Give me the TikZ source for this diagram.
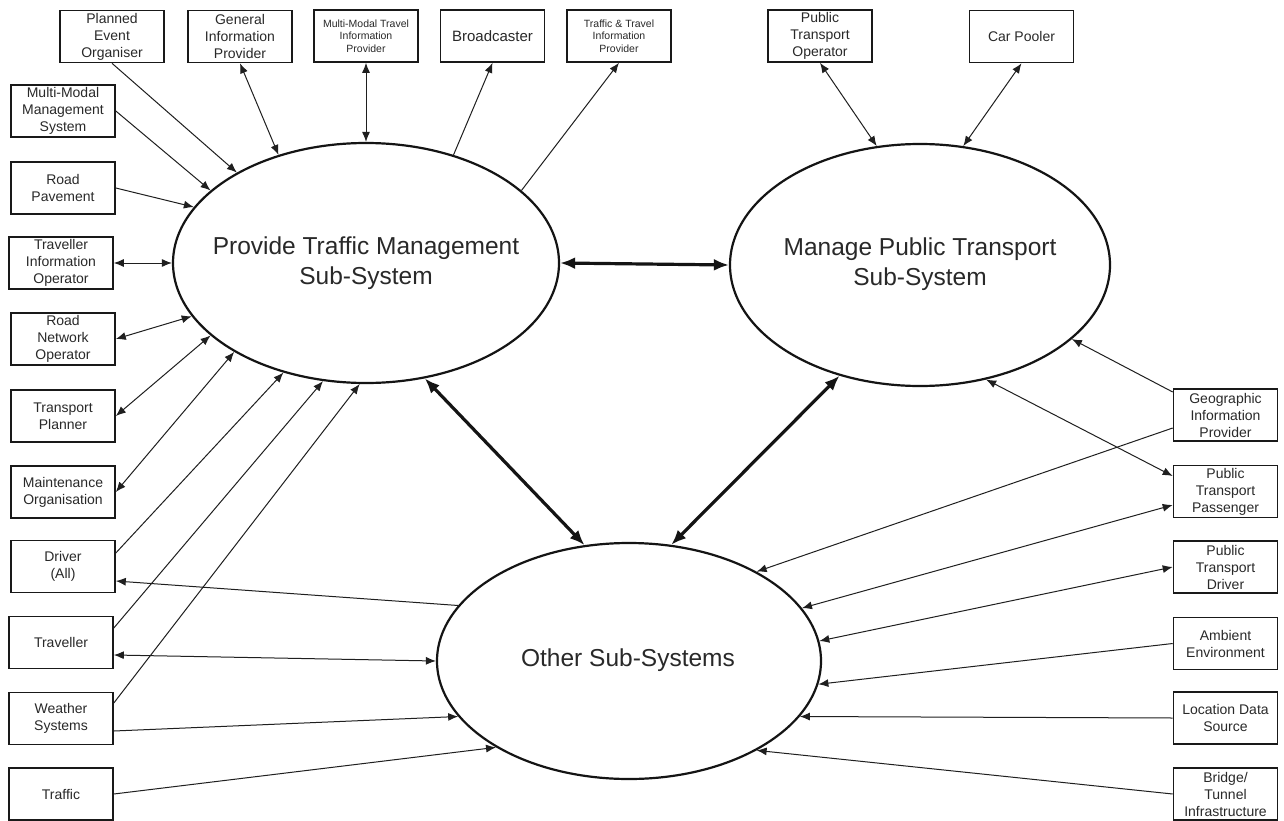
\documentclass[tikz,border=0pt]{standalone}
\usepackage{fontspec}
\setmainfont{Liberation Sans}
\usetikzlibrary{shapes.geometric,arrows.meta}
\begin{document}
\begin{tikzpicture}[x=1pt,y=-1pt,
  >={Latex[length=10pt,width=8pt]},
  actor/.style={draw=black!90, line width=1.6pt, minimum width=104pt,
    minimum height=52pt, inner sep=0pt, align=center, text=black!84,
    font=\fontsize{14}{17}\selectfont},
  smallactor/.style={actor, font=\fontsize{10.5}{12.5}\selectfont},
  subsys/.style={draw=black!92, ellipse, line width=2.2pt, inner sep=0pt},
  subtitle/.style={align=center, text=black!84, inner sep=0pt,
    font=\fontsize{24.5}{30}\selectfont},
  conn/.style={line width=1pt, draw=black!88},
  heavy/.style={line width=3.2pt, draw=black!92,
    {Latex[length=15pt,width=12pt]}-{Latex[length=15pt,width=12pt]}}
]
\useasboundingbox[fill=white] (0,0) rectangle (1284,821);

% --- sub-system ellipses ---
\node[subsys, minimum width=386pt, minimum height=240pt] (ptm) at (366,263) {};
\node[subtitle] (ptmtxt) at (366,263) {Provide Traffic Management\\Sub-System};
\node[subsys, minimum width=380pt, minimum height=242pt] (mpt) at (920,265) {};
\node[subtitle] (mpttxt) at (920,264) {Manage Public Transport\\Sub-System};
\node[subsys, minimum width=384pt, minimum height=236pt] (oss) at (629,661) {};
\node[subtitle] (osstxt) at (628,660) {Other Sub-Systems};

% --- top row of terminators ---
\node[actor] (plan) at (112,36.5) {Planned\\Event\\Organiser};
\node[actor] (gen) at (240,36.5) {General\\Information\\Provider};
\node[smallactor] (mmt) at (366,36) {Multi-Modal Travel\\Information\\Provider};
\node[actor, font=\fontsize{15}{17}\selectfont] (brd) at (492.5,36) {Broadcaster};
\node[smallactor] (tti) at (619,36) {Traffic \& Travel\\Information\\Provider};
\node[actor] (pto) at (820,36) {Public\\Transport\\Operator};
\node[actor] (carp) at (1021.5,36.5) {Car Pooler};

% --- left column ---
\node[actor] (mmm) at (63,111) {Multi-Modal\\Management\\System};
\node[actor] (rpav) at (63,188) {Road\\Pavement};
\node[actor] (tio) at (61,263) {Traveller\\Information\\Operator};
\node[actor] (rno) at (63,339) {Road\\Network\\Operator};
\node[actor] (tpl) at (63,416) {Transport\\Planner};
\node[actor] (mnt) at (63,492) {Maintenance\\Organisation};
\node[actor] (drv) at (63,566.5) {Driver\\(All)};
\node[actor] (trv) at (61,642.5) {Traveller};
\node[actor] (wth) at (61,718.5) {Weather\\Systems};
\node[actor] (trf) at (61,794) {Traffic};

% --- right column ---
\node[actor] (geo) at (1225.5,415) {Geographic\\Information\\Provider};
\node[actor] (ptp) at (1225.5,491.5) {Public\\Transport\\Passenger};
\node[actor] (ptd) at (1225.5,567) {Public\\Transport\\Driver};
\node[actor] (amb) at (1225.5,643.5) {Ambient\\Environment};
\node[actor] (lds) at (1225.5,718) {Location Data\\Source};
\node[actor] (btl) at (1225.5,794) {Bridge/\\Tunnel\\Infrastructure};

% --- flows of the traffic management sub-system ---
\draw[conn,->] (plan.south) -- (ptm.145.5);
\draw[conn,<->] (gen.south) -- (ptm.129);
\draw[conn,<->] (mmt.south) -- (ptm.90);
\draw[conn,->] (ptm.51.5) -- (brd.south);
\draw[conn,->] (ptm.25.4) -- (tti.south);
\draw[conn,->] (mmm.east) -- (ptm.155);
\draw[conn,->] (rpav.east) -- (ptm.162);
\draw[conn,<->] (tio.east) -- (ptm.180);
\draw[conn,<->] (rno.east) -- (ptm.197.5);
\draw[conn,<->] (tpl.east) -- (ptm.205.7);
\draw[conn,<->] (mnt.east) -- (ptm.214.5);
\draw[conn,->] ([yshift=13.5pt]drv.east) -- (ptm.233.6);
\draw[conn,->] ([yshift=14.5pt]trv.east) -- (ptm.250.6);
\draw[conn,->] ([yshift=15.5pt]wth.east) -- (ptm.267);

% --- flows of the other sub-systems (left) ---
\draw[conn,->] (oss.162.5) -- ([yshift=-14.5pt]drv.east);
\draw[conn,<->] ([yshift=-12.5pt]trv.east) -- (oss.180);
\draw[conn,->] ([yshift=-12.5pt]wth.east) -- (oss.198);
\draw[conn,->] (trf.east) -- (oss.213.9);

% --- flows of the public transport sub-system ---
\draw[conn,<->] (pto.south) -- (mpt.110.3);
\draw[conn,<->] (carp.south) -- (mpt.70);
\draw[conn,->] ([yshift=23pt]geo.west) -- (mpt.334);
\draw[conn,<->] ([yshift=15.5pt]ptp.west) -- (mpt.300);

% --- flows of the other sub-systems (right) ---
\draw[conn,->] ([yshift=-13pt]geo.west) -- (oss.35.2);
\draw[conn,<->] ([yshift=-13.5pt]ptp.west) -- (oss.17.8);
\draw[conn,<->] (ptd.west) -- (oss.6.8);
\draw[conn,->] (amb.west) -- (oss.353.4);
\draw[conn,->] (lds.west) -- (oss.342.2);
\draw[conn,->] (btl.west) -- (oss.325.2);

% --- links between sub-systems ---
\draw[heavy] (ptm.east) -- (mpt.west);
\draw[heavy] (ptm.297.5) -- (oss.111.7);
\draw[heavy] (mpt.234) -- (oss.70);
\end{tikzpicture}
\end{document}
